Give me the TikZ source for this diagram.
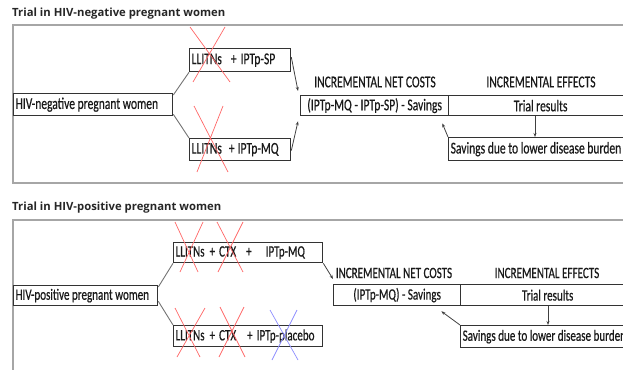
\documentclass[tikz,border=0pt]{standalone}
\usepackage{fontspec}
\setmainfont{Carlito}[FakeStretch=0.7,FakeBold=0.5]
\newfontfamily\ttlfont{Open Sans}
\usetikzlibrary{calc,arrows.meta}
\newcommand{\gp}[1]{\hspace{#1pt}}
\begin{document}
\begin{tikzpicture}[x=1pt,y=-1pt,
  box/.style={draw=black!80,line width=1.3pt,inner sep=0pt,text=black!90},
  topf/.style={font=\fontsize{16.5}{17}\selectfont},
  botf/.style={font=\fontsize{15.8}{17}\selectfont},
  frame/.style={draw=black!35,line width=1.3pt},
  ttl/.style={font=\ttlfont\bfseries\fontsize{11.3}{12}\selectfont,text=black!85,anchor=west,inner sep=0pt},
  hdr/.style={text=black!90,inner sep=0pt},
  link/.style={draw=black!55,line width=0.9pt},
  arr/.style={draw=black!75,line width=0.8pt,-{Stealth[length=4pt,width=3pt]}},
  redx/.style={draw=red!60,line width=0.7pt},
  bluex/.style={draw=blue!45,line width=0.7pt}]
\useasboundingbox (0,0) rectangle (623,369);
\clip (0,0) rectangle (623,369);
% ---------- top panel
\node[ttl] (t1) at (12,14) {Trial in HIV-negative pregnant women};
\draw[frame] (640,25) -- (13,25) -- (13,183) -- (640,183);
\node[box,topf,minimum width=159pt,minimum height=22pt,anchor=north west] (neg) at (13,93) {\makebox[155pt][l]{HIV-negative pregnant women}};
\node[box,topf,minimum width=101pt,minimum height=23pt,anchor=north west] (sp) at (189,48) {\makebox[97pt][l]{LLITNs\gp{9}+\gp{4}IPTp-SP}};
\node[box,topf,minimum width=101pt,minimum height=22pt,anchor=north west] (mq) at (189,138) {\makebox[97pt][l]{LLITNs\gp{7}+\gp{3}IPTp-MQ}};
\node[box,topf,minimum width=148pt,minimum height=20pt,anchor=north west] (cost1) at (300,95) {(IPTp-MQ - IPTp-SP) - Savings};
\node[box,topf,minimum width=184pt,minimum height=20pt,anchor=north west] (eff1) at (448,95) {Trial results};
\node[box,topf,minimum width=212pt,minimum height=23pt,anchor=north west] (sav1) at (448,137) {\makebox[208pt][l]{Savings due to lower disease burden}};
\node[hdr,topf] (h1a) at (375,82) {INCREMENTAL NET COSTS};
\node[hdr,topf] (h1b) at (541,82) {INCREMENTAL EFFECTS};
\draw[link] ($(neg.north east)+(0,2)$) -- (sp.south west);
\draw[link] ($(neg.south east)+(0,-2)$) -- (mq.north west);
\draw[arr] ($(sp.east)+(0,-3)$) -- ($(cost1.north west)+(-2,-4)$);
\draw[arr] ($(mq.east)+(0,1)$) -- ($(cost1.south west)+(-2,5)$);
\draw[arr] (eff1.south -| 535,0) -- (sav1.north -| 535,0);
\draw[arr] (sav1.north west) -- ($(cost1.south east)+(-7,7)$);
\draw[redx] (190,27) -- (230,82) (225,27) -- (193,82);
\draw[redx] (194,106) -- (228,172) (223,106) -- (197,172);
% ---------- bottom panel
\node[ttl] (t2) at (12,208) {Trial in HIV-positive pregnant women};
\draw[frame] (640,220) -- (13,220) -- (13,380);
\node[box,botf,minimum width=144pt,minimum height=20pt,anchor=north west] (pos) at (13,285) {\makebox[140pt][l]{HIV-positive pregnant women}};
\node[box,botf,minimum width=149pt,minimum height=20pt,anchor=north west] (b1) at (173,242) {\makebox[145pt][l]{LLITNs\gp{5}+\gp{4}CTX\gp{10}+\gp{14}IPTp-MQ}};
\node[box,botf,minimum width=149pt,minimum height=21pt,anchor=north west] (b2) at (173,325) {\makebox[145pt][l]{LLITNs\gp{5}+\gp{4}CTX\gp{11}+\gp{4}IPTp-placebo}};
\node[box,botf,minimum width=127pt,minimum height=21pt,anchor=north west] (cost2) at (333,284) {(IPTp-MQ) - Savings};
\node[box,botf,minimum width=174pt,minimum height=21pt,anchor=north west] (eff2) at (460,284) {Trial results};
\node[box,botf,minimum width=200pt,minimum height=22pt,anchor=north west] (sav2) at (460,325) {\makebox[196pt][l]{Savings due to lower disease burden}};
\node[hdr,botf] (h2a) at (394,273) {INCREMENTAL NET COSTS};
\node[hdr,botf] (h2b) at (547,273) {INCREMENTAL EFFECTS};
\draw[link] ($(pos.north east)+(0,2)$) -- (b1.south west);
\draw[link] ($(pos.south east)+(0,-5)$) -- (b2.north west);
\draw[arr] (b1.south east) -- ($(cost2.north west)+(0,-5)$);
\draw[arr] (eff2.south -| 548,0) -- (sav2.north -| 548,0);
\draw[arr] (sav2.north west) -- ($(cost2.south east)+(-20,5)$);
\draw[redx] (175,222) -- (198,272) (203,222) -- (180,272);
\draw[redx] (217,222) -- (243,272) (243,222) -- (218,272);
\draw[redx] (175,308) -- (200,357) (205,308) -- (177,357);
\draw[redx] (220,307) -- (245,357) (244,307) -- (219,357);
\draw[bluex] (270,310) -- (298,360) (297,310) -- (272,360);
\end{tikzpicture}
\end{document}
